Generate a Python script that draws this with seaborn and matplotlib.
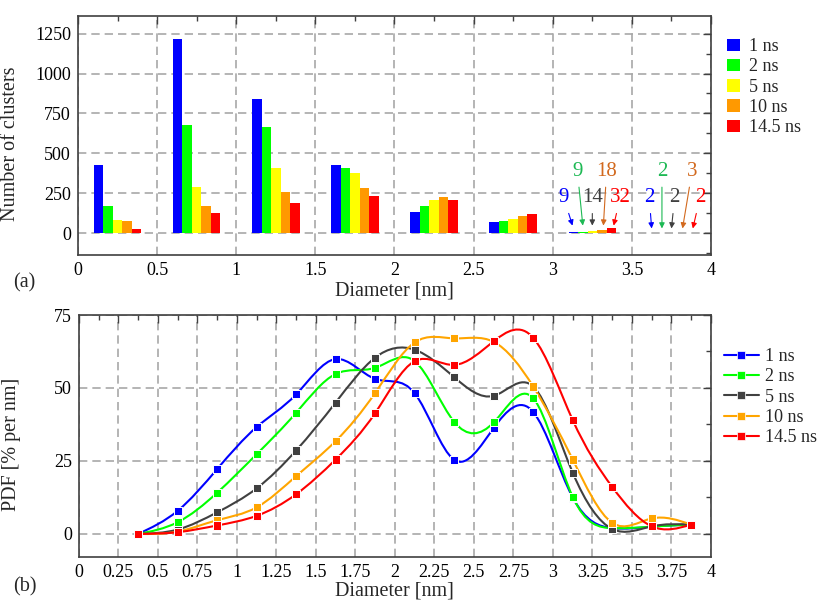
import numpy as np
import pandas as pd
import matplotlib
matplotlib.use("Agg")
import matplotlib.pyplot as plt
from matplotlib.path import Path
from matplotlib.patches import PathPatch, Patch
from matplotlib.lines import Line2D
from matplotlib.ticker import MultipleLocator, FuncFormatter
import seaborn as sns

# ---------------- data ----------------
times = ["1 ns", "2 ns", "5 ns", "10 ns", "14.5 ns"]

# (a) histogram of cluster counts, bins of 0.5 nm (centres)
bin_centres_a = [0.25, 0.75, 1.25, 1.75, 2.25, 2.75, 3.25, 3.75]
counts_1ns = [428, 1215, 839, 426, 133, 71, 9, 2]
counts_2ns = [173, 678, 664, 411, 173, 75, 9, 2]
counts_5ns = [83, 292, 411, 376, 207, 90, 14, 2]
counts_10ns = [77, 171, 261, 282, 227, 108, 18, 3]
counts_14ns = [25, 125, 188, 234, 207, 123, 32, 2]

# (b) PDF, bins of 0.25 nm (centres)
bin_centres_b = [0.375, 0.625, 0.875, 1.125, 1.375, 1.625, 1.875, 2.125,
                 2.375, 2.625, 2.875, 3.125, 3.375, 3.625, 3.875]
pdf_1ns = [0, 7.9, 22.2, 36.6, 47.8, 59.9, 53.1, 48.2, 25.4, 36.3, 41.8, 12.5, 2.0, 2.5, 3.2]
pdf_2ns = [0, 4.0, 14.1, 27.3, 41.5, 54.8, 56.9, 59.2, 38.4, 38.2, 46.5, 12.7, 2.0, 2.5, 3.2]
pdf_5ns = [0, 1.5, 7.4, 15.6, 28.6, 45.0, 60.4, 63.1, 53.7, 47.3, 50.5, 21.0, 1.7, 2.6, 3.2]
pdf_10ns = [0, 0.8, 4.7, 9.1, 19.8, 31.8, 48.3, 65.6, 67.0, 65.8, 50.5, 25.5, 3.8, 5.3, 3.2]
pdf_14ns = [0, 0.6, 2.9, 6.2, 13.6, 25.5, 41.4, 59.2, 57.9, 66.0, 67.2, 39.0, 16.1, 2.6, 3.2]

bar_colors = ["#0000ff", "#00ff00", "#ffff00", "#ff9900", "#ff0000"]
line_colors = ["#0000ff", "#00ff00", "#404040", "#ffa500", "#ff0000"]
note_colors = ["#0000ff", "#1db954", "#404040", "#d2691e", "#ff0000"]

counts_all = [counts_1ns, counts_2ns, counts_5ns, counts_10ns, counts_14ns]
pdf_all = [pdf_1ns, pdf_2ns, pdf_5ns, pdf_10ns, pdf_14ns]

df_a = pd.DataFrame({
    "diameter": np.tile(bin_centres_a, len(times)),
    "count": np.concatenate(counts_all),
    "time": np.repeat(times, len(bin_centres_a)),
})
df_b = pd.DataFrame({
    "diameter": np.tile(bin_centres_b, len(times)),
    "pdf": np.concatenate(pdf_all),
    "time": np.repeat(times, len(bin_centres_b)),
})

# ---------------- style ----------------
sns.set_theme(style="white")
plt.rcParams["font.family"] = ["Liberation Serif", "DejaVu Serif"]
plt.rcParams["mathtext.fontset"] = "stix"

FS_TICK = 13
FS_LAB = 14.5
FS_LEG = 13
SPINE = "#404040"
GRID = "#a8a8a8"

fig = plt.figure(figsize=(8.17, 6.01), dpi=100)
W, H = 817, 601
ax1 = fig.add_axes([78 / W, 1 - 255 / H, (711 - 78) / W, (255 - 15.7) / H])
ax2 = fig.add_axes([78.8 / W, 1 - 557.3 / H, (711 - 78.8) / W, (557.3 - 315) / H])


def style_axes(ax):
    for s in ax.spines.values():
        s.set_color(SPINE)
        s.set_linewidth(1.2)
        s.set_visible(True)
    ax.tick_params(which="both", direction="in", top=True, right=True,
                   color=SPINE, labelsize=FS_TICK, labelcolor="black")
    ax.tick_params(which="major", length=6, width=1.0, pad=5)
    ax.tick_params(which="minor", length=3.5, width=1.0)
    ax.grid(True, which="major", color=GRID, linestyle=(0, (5, 3)), linewidth=1.2)
    ax.set_axisbelow(True)
    ax.xaxis.set_major_formatter(FuncFormatter(lambda v, p: f"{v:g}"))


# ---------------- (a) bars ----------------
sns.barplot(data=df_a, x="diameter", y="count", hue="time", hue_order=times,
            palette=bar_colors, saturation=1, native_scale=True, width=0.6, gap=0,
            linewidth=0, edgecolor="none", errorbar=None, ax=ax1, legend=False)
ax1.set_xlim(0, 4)
ax1.set_ylim(-136, 1362)
ax1.xaxis.set_major_locator(MultipleLocator(0.5))
ax1.xaxis.set_minor_locator(MultipleLocator(0.25))
ax1.yaxis.set_major_locator(MultipleLocator(250))
ax1.yaxis.set_minor_locator(MultipleLocator(125))
style_axes(ax1)
ax1.set_xlabel("Diameter [nm]", fontsize=FS_LAB, labelpad=2)
ax1.set_ylabel("Number of clusters", fontsize=FS_LAB)
ax1.yaxis.set_label_coords(-0.092, 0.465)

# value annotations for the two last bins
text_dx = {3.25: [-0.18, -0.094, 0.0, 0.09, 0.175],
           3.75: [-0.14, -0.06, 0.02, 0.13, 0.18]}
tip_dx = [-0.125, -0.06, 0.0, 0.07, 0.135]
text_y = [221, 386, 221, 386, 221]
for bi, xc in [(6, 3.25), (7, 3.75)]:
    tip_y = 48 if bi == 6 else 30
    for k in range(5):
        val = counts_all[k][bi]
        ax1.annotate(f"{val}", xy=(xc + tip_dx[k], tip_y),
                     xytext=(xc + text_dx[xc][k], text_y[k]),
                     ha="center", va="center", fontsize=FS_TICK + 2,
                     color=note_colors[k],
                     arrowprops=dict(arrowstyle="-|>", color=note_colors[k],
                                     lw=0.8, mutation_scale=8,
                                     shrinkA=2, shrinkB=0))

bar_handles = [Patch(facecolor=c, edgecolor="none") for c in bar_colors]
fig.legend(bar_handles, times, loc="upper left", bbox_to_anchor=(720 / W, 1 - 31 / H),
           frameon=False, fontsize=FS_LEG, handlelength=0.7, handleheight=0.7,
           handletextpad=0.5, labelspacing=0.18, borderaxespad=0)


# ---------------- (b) PDF curves ----------------
def spline_path(xs, ys):
    xs = np.asarray(xs, float)
    ys = np.asarray(ys, float)
    n = len(xs)
    h = xs[1] - xs[0]
    A = np.zeros((n, n))
    b = np.zeros(n)
    A[0, 0] = A[-1, -1] = 1.0
    for i in range(1, n - 1):
        A[i, i - 1], A[i, i], A[i, i + 1] = 1.0, 4.0, 1.0
        b[i] = 6.0 / h ** 2 * (ys[i + 1] - 2 * ys[i] + ys[i - 1])
    M = np.linalg.solve(A, b)
    m = np.zeros(n)
    for i in range(n - 1):
        m[i] = (ys[i + 1] - ys[i]) / h - h * (2 * M[i] + M[i + 1]) / 6.0
    m[-1] = (ys[-1] - ys[-2]) / h + h * (M[-2] + 2 * M[-1]) / 6.0
    verts = [(xs[0], ys[0])]
    codes = [Path.MOVETO]
    for i in range(n - 1):
        verts += [(xs[i] + h / 3, ys[i] + m[i] * h / 3),
                  (xs[i + 1] - h / 3, ys[i + 1] - m[i + 1] * h / 3),
                  (xs[i + 1], ys[i + 1])]
        codes += [Path.CURVE4] * 3
    return Path(verts, codes)


for k, t in enumerate(times):
    sub = df_b[df_b["time"] == t]
    ax2.add_patch(PathPatch(spline_path(sub["diameter"], sub["pdf"]),
                            facecolor="none", edgecolor=line_colors[k], lw=1.5,
                            zorder=2 + k))
sns.scatterplot(data=df_b, x="diameter", y="pdf", hue="time", hue_order=times,
                palette=line_colors, marker="s", s=34, edgecolor="white",
                linewidth=0.7, ax=ax2, legend=False, zorder=10)

ax2.set_xlim(0, 4)
ax2.set_ylim(-8, 75)
ax2.xaxis.set_major_locator(MultipleLocator(0.25))
ax2.xaxis.set_minor_locator(MultipleLocator(0.125))
ax2.yaxis.set_major_locator(MultipleLocator(25))
ax2.yaxis.set_minor_locator(MultipleLocator(12.5))
style_axes(ax2)
ax2.set_xlabel("Diameter [nm]", fontsize=FS_LAB, labelpad=0)
ax2.set_ylabel("PDF [% per nm]", fontsize=FS_LAB)
ax2.yaxis.set_label_coords(-0.092, 0.467)

line_handles = [Line2D([], [], color=c, lw=1.5, marker="s", markersize=5.5,
                       markeredgecolor="white", markeredgewidth=0.5)
                for c in line_colors]
fig.legend(line_handles, times, loc="upper left", bbox_to_anchor=(717 / W, 1 - 341 / H),
           frameon=False, fontsize=FS_LEG, handlelength=1.9,
           handletextpad=0.35, labelspacing=0.18, borderaxespad=0)

fig.text(13 / W, 1 - 283 / H, "(a)", fontsize=FS_LAB, va="center", ha="left")
fig.text(13 / W, 1 - 587 / H, "(b)", fontsize=FS_LAB, va="center", ha="left")

fig.savefig("out.png", dpi=100)
